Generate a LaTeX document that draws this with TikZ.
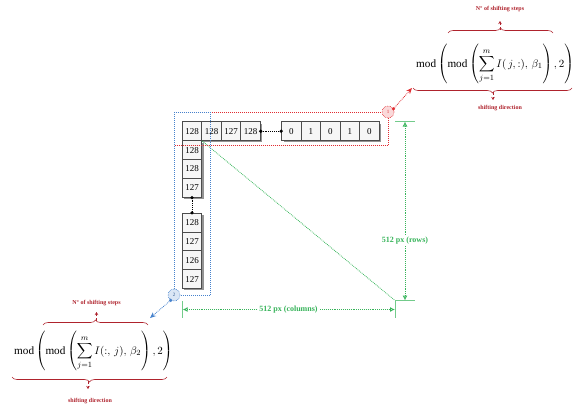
\documentclass[tikz,border=0pt]{standalone}
\usepackage{amsmath}
\usepackage{fontspec}
\setmainfont{Liberation Serif}
\usetikzlibrary{arrows.meta,shadows,decorations.pathreplacing,calc}
\definecolor{myred}{RGB}{225,45,50}
\definecolor{darkred}{RGB}{175,35,45}
\definecolor{mygreen}{RGB}{55,180,90}
\definecolor{myblue}{RGB}{70,130,205}
\tikzset{
  cell/.style={draw=black!70, line width=1pt, fill=gray!7, minimum width=19.5pt, minimum height=18.8pt, inner sep=0pt,
    font=\fontsize{9}{10}\selectfont, drop shadow={shadow xshift=1.8pt, shadow yshift=-1.8pt, fill=black!70, opacity=0.6}},
  joint/.style={circle, fill=black, inner sep=0pt, minimum size=3.6pt},
  joinline/.style={densely dotted, line width=0.9pt},
  redbox/.style={draw=myred, densely dotted, line width=1pt},
  bluebox/.style={draw=myblue, densely dotted, line width=1pt},
  marker/.style={circle, densely dotted, line width=0.6pt, minimum size=12pt, inner sep=0pt, font=\fontsize{5}{5}\selectfont},
  dimline/.style={draw=mygreen, densely dotted, line width=0.9pt},
  dimext/.style={draw=mygreen!70, line width=0.5pt},
  dimarrow/.style={{Latex[open,length=5pt,width=5pt]}-{Latex[open,length=5pt,width=5pt]}},
  dimlab/.style={fill=white, text=mygreen, inner sep=1pt, font=\fontsize{8}{9}\selectfont\bfseries},
  formula/.style={inner sep=0pt, font=\fontsize{11.2}{13}\selectfont},
  bracestyle/.style={draw=darkred, line width=0.6pt, decorate, decoration={brace, amplitude=5pt}},
  smallarrow/.style={draw=darkred, densely dashed, line width=0.6pt, -{Stealth[length=3pt,width=3.5pt]}},
  braceLab/.style={text=darkred, inner sep=0pt, font=\fontsize{6}{7}\selectfont\bfseries},
}
\begin{document}
\begin{tikzpicture}[x=1pt,y=-1pt]
\useasboundingbox (0,0) rectangle (573,408);
% top row
\node[cell] (r1) at (192,131.2) {128};
\node[cell] (r2) at (211.5,131.2) {128};
\node[cell] (r3) at (231,131.2) {127};
\node[cell] (r4) at (250.5,131.2) {128};
\node[cell] (z1) at (291.45,131.2) {0};
\node[cell] (z2) at (310.95,131.2) {1};
\node[cell] (z3) at (330.45,131.2) {0};
\node[cell] (z4) at (349.95,131.2) {1};
\node[cell] (z5) at (369.45,131.2) {0};
% column
\node[cell] (c1) at (192,150.1) {128};
\node[cell] (c2) at (192,168.9) {128};
\node[cell] (c3) at (192,187.7) {127};
\node[cell] (d1) at (192,222.7) {128};
\node[cell] (d2) at (192,241.5) {127};
\node[cell] (d3) at (192,260.3) {126};
\node[cell] (d4) at (192,279.1) {127};
% joints
\draw[joinline] (r4.east) -- (z1.west);
\node[joint] (j1) at (r4.east) {};
\node[joint] (j2) at (z1.west) {};
\draw[joinline] (c3.south) -- (d1.north);
\node[joint] (j3) at (c3.south) {};
\node[joint] (j4) at (d1.north) {};
% green dimensions
\coordinate (br) at (395,300.5);
\draw[mygreen, densely dotted, line width=0.8pt] (r1.south east) -- (br);
\draw[dimext] (395,121) -- (415,121);
\draw[dimext] (395,300.5) -- (415,300.5);
\draw[dimext] (182.7,301) -- (182.7,318);
\draw[dimext] (395,300.5) -- (395,318);
\coordinate (rt) at (405,121.5);
\coordinate (rb) at (405,300.5);
\coordinate (cl) at (182.7,309.5);
\coordinate (cr) at (395,309.5);
\draw[dimline, dimarrow] (rt) -- (rb);
\draw[dimline, dimarrow] (cl) -- (cr);
\node[dimlab] (rowlab) at (405,241) {512 px (rows)};
\node[dimlab] (collab) at (288.5,309.5) {512 px (columns)};
% boxes
\draw[redbox] (174,112) rectangle (388,145.5);
\draw[bluebox] (174,112) rectangle (210.5,295);
% markers
\node[marker, draw=myred, fill=myred!18, text=myred] (k1) at (388,112) {1};
\node[marker, draw=myblue, fill=myblue!20, text=myblue!70!black] (k2) at (174,295) {2};
\coordinate (a1) at (412,88);
\coordinate (a2) at (150,318);
\fill[myred] (k1.30) circle (1.8pt);
\fill[myblue] (k2.238) circle (1.8pt);
\draw[myred, densely dotted, line width=0.8pt, -{Stealth[length=6pt,width=5pt]}] (k1.30) -- (a1);
\draw[myblue, densely dotted, line width=0.8pt, -{Stealth[length=6pt,width=5pt]}] (k2.238) -- (a2);
% top formula
\node[formula, anchor=base west] (f1) at (416,67)
  {$\displaystyle \operatorname{mod}\left(\operatorname{mod}\left(\sum_{j=1}^{m} I(\,j,:),\,\beta_1\right),2\right)$};
\draw[bracestyle] (448,33) -- (553,33);
\draw[bracestyle] (572,88) -- (413,88);
\coordinate (t1a) at (500,30);
\coordinate (t1b) at (500,21);
\draw[smallarrow] (t1a) -- (t1b);
\node[braceLab] (t1) at (500,9.5) {N° of shifting steps};
\coordinate (t2a) at (493,92);
\coordinate (t2b) at (493,100);
\draw[smallarrow] (t2a) -- (t2b);
\node[braceLab] (t2) at (500,108.5) {shifting direction};
% bottom formula
\node[formula, anchor=base west] (f2) at (14,354)
  {$\displaystyle \operatorname{mod}\left(\operatorname{mod}\left(\sum_{j=1}^{m} I(:,\,j),\,\beta_2\right),2\right)$};
\draw[bracestyle] (43,325) -- (148,325);
\draw[bracestyle] (167,377) -- (12,377);
\coordinate (b1a) at (96.5,321);
\coordinate (b1b) at (96.5,312);
\draw[smallarrow] (b1a) -- (b1b);
\node[braceLab] (b1) at (96.5,303) {N° of shifting steps};
\coordinate (b2a) at (88,381);
\coordinate (b2b) at (88,389);
\draw[smallarrow] (b2a) -- (b2b);
\node[braceLab] (b2) at (90,401) {shifting direction};
\end{tikzpicture}
\end{document}
